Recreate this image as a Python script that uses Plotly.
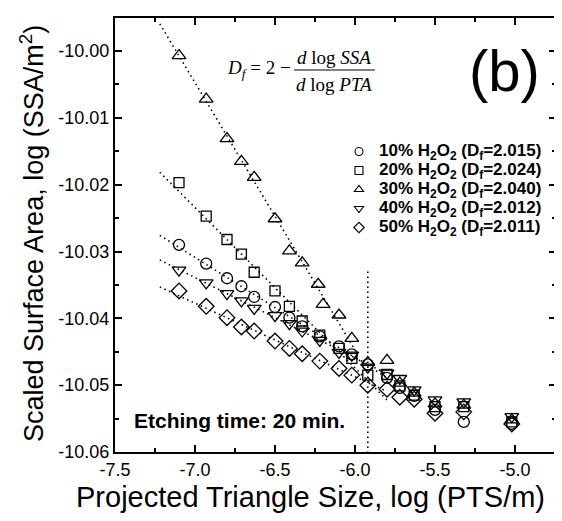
import numpy as np
import plotly.graph_objects as go

# ---------------- data ----------------
x_common = [-7.10, -6.93, -6.80, -6.71, -6.63, -6.50, -6.41, -6.33, -6.22, -6.10,
            -6.02, -5.92, -5.80, -5.72, -5.63, -5.50, -5.32, -5.02]
x_30 = [-7.10, -6.93, -6.80, -6.71, -6.63, -6.50, -6.41, -6.33, -6.23, -6.20, -6.10,
        -6.02, -5.92, -5.80, -5.72, -5.63, -5.50, -5.32, -5.02]

y_10 = [-10.0290, -10.0318, -10.0340, -10.0352, -10.0368, -10.0383, -10.0399, -10.0412,
        -10.0427, -10.0442, -10.0454, -10.0469, -10.0489, -10.0504, -10.0516, -10.0537,
        -10.0555, -10.0558]
y_20 = [-10.0197, -10.0247, -10.0282, -10.0304, -10.0331, -10.0359, -10.0382, -10.0404,
        -10.0425, -10.0445, -10.0460, -10.0485, -10.0484, -10.0501, -10.0515, -10.0532,
        -10.0532, -10.0555]
y_30 = [-10.0007, -10.0072, -10.0131, -10.0165, -10.0189, -10.0251, -10.0299, -10.0317,
        -10.0349, -10.0379, -10.0395, -10.0430, -10.0466, -10.0463, -10.0497, -10.0512,
        -10.0528, -10.0530, -10.0552]
y_40 = [-10.0328, -10.0347, -10.0363, -10.0374, -10.0385, -10.0396, -10.0408, -10.0419,
        -10.0433, -10.0451, -10.0455, -10.0473, -10.0482, -10.0490, -10.0507, -10.0522,
        -10.0525, -10.0547]
y_50 = [-10.0359, -10.0382, -10.0399, -10.0413, -10.0419, -10.0434, -10.0445, -10.0453,
        -10.0464, -10.0475, -10.0485, -10.0500, -10.0506, -10.0518, -10.0521, -10.0542,
        -10.0540, -10.0558]

concentrations = ["10%", "20%", "30%", "40%", "50%"]
df_values = [2.015, 2.024, 2.040, 2.012, 2.011]

# fitted region (start / end of dotted fit lines) and crossover
fit_x_start = -7.22
fit_x_end = [-5.80, -5.80, -6.00, -5.80, -5.80]
fit_cut = [-6.0, -6.0, -6.0, -6.0, -6.0]
break_x = -5.92
break_y = [-10.033, -10.06]

x_tick_vals = [-7.5, -7.0, -6.5, -6.0, -5.5, -5.0]
x_tick_labels = ["-7.5", "-7.0", "-6.5", "-6.0", "-5.5", "-5.0"]
y_tick_vals = [-10.06, -10.05, -10.04, -10.03, -10.02, -10.01, -10.00]
y_tick_labels = ["-10.06", "-10.05", "-10.04", "-10.03", "-10.02", "-10.01", "-10.00"]

x_title = "Projected Triangle Size, log (PTS/m)"
y_title = "Scaled Surface Area, log (SSA/m<sup>2</sup>)"

# ---------------- style ----------------
OFF = 8                      # default page body margin
W, H = 562 - OFF, 521 - OFF
L, R, T, B = 115 - OFF, 6, 18 - OFF, 69
symbols = ["circle-open", "square-open", "triangle-up-open", "triangle-down-open", "diamond-open"]
msizes = [11, 10, 12, 12, 12]
DOT = "1.5px,3.5px"

xs = [x_common, x_common, x_30, x_common, x_common]
ys = [y_10, y_20, y_30, y_40, y_50]

fig = go.Figure()

# fit lines
for i in range(5):
    x = np.array(xs[i]); y = np.array(ys[i])
    slope = 2 - df_values[i]
    m = x <= fit_cut[i]
    b = np.mean(y[m] - slope * x[m])
    fx = np.array([fit_x_start, fit_x_end[i]])
    fig.add_trace(go.Scatter(x=fx, y=b + slope * fx, mode="lines", showlegend=False,
                             line=dict(color="black", width=1.6, dash=DOT), hoverinfo="skip"))

# vertical dotted line
fig.add_trace(go.Scatter(x=[break_x, break_x], y=break_y, mode="lines", showlegend=False,
                         line=dict(color="black", width=1.6, dash=DOT), hoverinfo="skip"))

# data markers
for i in range(5):
    fig.add_trace(go.Scatter(x=xs[i], y=ys[i], mode="markers", showlegend=False,
                             marker=dict(symbol=symbols[i], size=msizes[i], color="black",
                                         line=dict(color="black", width=1.3))))

# legend entries
for i in range(5):
    name = ('<span style="font-size:17px"><b>%s H<sub>2</sub>O<sub>2</sub> '
            '(D<sub>f</sub>=%.3f)</b></span>' % (concentrations[i], df_values[i]))
    fig.add_trace(go.Scatter(x=[None], y=[None], mode="markers", name=name,
                             marker=dict(symbol=symbols[i], size=8, color="black",
                                         line=dict(color="black", width=1.1))))

pw = W - L - R
ph = H - T - B
def px(xp):   # page pixel -> paper
    return (xp - OFF - L) / pw
def py(yp):
    return (H - B - (yp - OFF)) / ph

serif = "Liberation Serif"
sans = "Liberation Sans"
ann = [
    dict(x=px(293), y=py(69), text="<i>D</i><sub><i>f</i></sub> = 2 \u2212",
         xanchor="right", yanchor="middle", font=dict(family=serif, size=19, color="black")),
    dict(x=px(334), y=py(57), text="<i>d</i> log <i>SSA</i>",
         xanchor="center", yanchor="middle", font=dict(family=serif, size=19, color="black")),
    dict(x=px(334), y=py(84), text="<i>d</i> log <i>PTA</i>",
         xanchor="center", yanchor="middle", font=dict(family=serif, size=19, color="black")),
    dict(x=px(504), y=py(70), text="(b)", xanchor="center", yanchor="middle",
         font=dict(family=sans, size=58, color="black")),
    dict(x=px(132), y=py(420), text="<b>Etching time: 20 min.</b>", xanchor="left",
         yanchor="middle", font=dict(family=sans, size=21, color="black")),
    dict(x=px(310), y=py(497), text=x_title, xanchor="center", yanchor="middle",
         font=dict(family=sans, size=29, color="black")),
    dict(x=px(32), y=py(234), text=y_title, xanchor="center", yanchor="middle",
         textangle=-90, font=dict(family=sans, size=27, color="black")),
]
for a in ann:
    a.update(xref="paper", yref="paper", showarrow=False)

axis_common = dict(showgrid=False, zeroline=False, showline=True, linecolor="black",
                   linewidth=2, mirror="ticks", ticks="inside", ticklen=7, tickwidth=1.5,
                   tickcolor="black", automargin=False,
                   tickfont=dict(family=sans, size=18, color="black"))

fig.update_layout(
    width=W, height=H, margin=dict(l=L, r=R, t=T, b=B, autoexpand=False),
    plot_bgcolor="white", paper_bgcolor="white",
    font=dict(family=sans, color="black"),
    annotations=ann,
    shapes=[dict(type="line", xref="paper", yref="paper", x0=px(294), x1=px(375),
                 y0=py(70), y1=py(70), line=dict(color="black", width=1.2))],
    legend=dict(x=px(339), y=py(137), xanchor="left", yanchor="top",
                bgcolor="rgba(0,0,0,0)", font=dict(family=sans, size=12, color="black"),
                itemwidth=30),
    xaxis=dict(range=[-7.5, -7.5 + pw / 160.0], tickvals=x_tick_vals, ticktext=x_tick_labels,
               minor=dict(dtick=0.25, tick0=-7.5, ticks="inside", ticklen=4, tickwidth=1.5,
                          tickcolor="black"),
               **axis_common),
    yaxis=dict(range=[-10.06, -10.0 + 33 / 6680.0], tickvals=y_tick_vals, ticktext=y_tick_labels,
               minor=dict(dtick=0.005, tick0=-10.06, ticks="inside", ticklen=4, tickwidth=1.5,
                          tickcolor="black"),
               **axis_common),
)

fig.write_html("out.html")
